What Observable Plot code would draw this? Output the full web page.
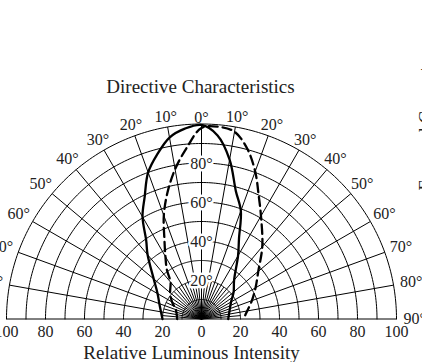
<!DOCTYPE html>
<html><head><meta charset="utf-8">
<script src="https://cdn.jsdelivr.net/npm/d3@7"></script>
<script src="https://cdn.jsdelivr.net/npm/@observablehq/plot@0.6"></script>
<style>html,body{margin:0;padding:0;overflow:hidden;background:#fff}</style>
</head><body><div id="chart"></div>
<script>
// ---- data ----
const title = "Directive Characteristics";
const xTitle = "Relative Luminous Intensity";
const sideTitle = "Forward Current";
const gridRadii = [10,20,30,40,50,60,70,80,90,100];
const majorSpokes = [-90,-80,-70,-60,-50,-40,-30,-20,-10,0,10,20,30,40,50,60,70,80,90];
const minorSpokes = [-85,-75,-65,-55,-45,-35,-25,-15,-5,5,15,25,35,45,55,65,75,85];
const angleTicks = [-90,-80,-70,-60,-50,-40,-30,-20,-10,0,10,20,30,40,50,60,70,80,90];
const radialLabels = [20,40,60,80];
const intensityTicks = [-100,-80,-60,-40,-20,0,20,40,60,80,100];
const solidAngles = [-90,-70,-60,-50,-40,-35,-30,-25,-20,-15,-10,-5,0,5,10,15,20,25,30,40,50,60,70,90];
const solidValues = [20,23,26,32,43,49.5,60.5,69,80,87.5,94.5,98,99.5,94.5,83,68,59,45.5,37.5,26,21.5,17.5,15.5,13.7];
const dashedAngles = [-90,-70,-60,-50,-40,-35,-30,-25,-20,-15,-10,-5,0,5,10,15,20,25,30,40,50,60,70,80,90];
const dashedValues = [12.5,14,17.4,21,24.7,31,37,45,56.5,67.3,78,88,98,99,97.5,90.5,80.5,69.5,61,48.5,38,32,27.5,23.8,21.5];

// ---- layout ----
const W = 422, H = 362, cx = 201, cy = 318.5, k = 1.95;
const ink = "#222";
const rad = a => a * Math.PI / 180;
const px = (a, r) => r * Math.sin(rad(a));
const py = (a, r) => r * Math.cos(rad(a));
const labelR = a => a === 0 ? 103.3 : 105.3 + 4 * Math.sin(rad(a)) ** 2;

const circlePts = gridRadii.flatMap(r => d3.range(-90, 90.5, 1).map(a => ({r, x: px(a, r), y: py(a, r)})));
const solid = solidAngles.map((a, i) => ({x: px(a, solidValues[i]), y: py(a, solidValues[i])}));
const dashed = dashedAngles.map((a, i) => ({x: px(a, dashedValues[i]), y: py(a, dashedValues[i])}));

const chart = Plot.plot({
  width: W, height: H, margin: 0,
  x: {domain: [-cx / k, (W - cx) / k], axis: null},
  y: {domain: [-(H - cy) / k, cy / k], axis: null},
  style: {fontFamily: "'Liberation Serif', 'Times New Roman', serif", background: "#fff", overflow: "visible"},
  marks: [
    Plot.line(circlePts, {x: "x", y: "y", z: "r", stroke: "#000", strokeWidth: 1}),
    Plot.link(majorSpokes, {x1: 0, y1: 0, x2: a => px(a, 100), y2: a => py(a, 100), stroke: "#000", strokeWidth: 1}),
    Plot.link(minorSpokes, {x1: 0, y1: 0, x2: a => px(a, 20), y2: a => py(a, 20), stroke: "#000", strokeWidth: 1}),
    Plot.line(solid, {x: "x", y: "y", curve: "catmull-rom", stroke: "#000", strokeWidth: 2.3}),
    Plot.line(dashed, {x: "x", y: "y", curve: "catmull-rom", stroke: "#000", strokeWidth: 2.3, strokeDasharray: "9,5"}),
    Plot.text(radialLabels, {x: 0, y: r => r, dy: 1, text: r => `${r}°`, fontSize: 16, fill: ink, stroke: "#fff", strokeWidth: 5, lineAnchor: "middle"}),
    Plot.text(angleTicks, {x: a => px(a, labelR(a)), y: a => py(a, labelR(a)), text: a => `${Math.abs(a)}°`, fontSize: 16, fill: ink, lineAnchor: "middle"}),
    Plot.text(intensityTicks, {x: d => d, y: 0, dy: 13, text: d => `${Math.abs(d)}`, fontSize: 16, fill: ink, lineAnchor: "middle"}),
    Plot.text([title], {frameAnchor: "top", dx: -11, dy: 86, text: d => d, fontSize: 19, fill: ink, lineAnchor: "middle"}),
    Plot.text([xTitle], {frameAnchor: "bottom", dx: -20, dy: -10, text: d => d, fontSize: 19, fill: ink, lineAnchor: "middle"}),
    Plot.text([sideTitle], {frameAnchor: "right", dx: 3.3, dy: 9, text: d => d, rotate: -90, textAnchor: "start", fontSize: 18.5, fill: ink, lineAnchor: "middle"})
  ]
});
document.getElementById("chart").append(chart);
</script>
</body></html>
